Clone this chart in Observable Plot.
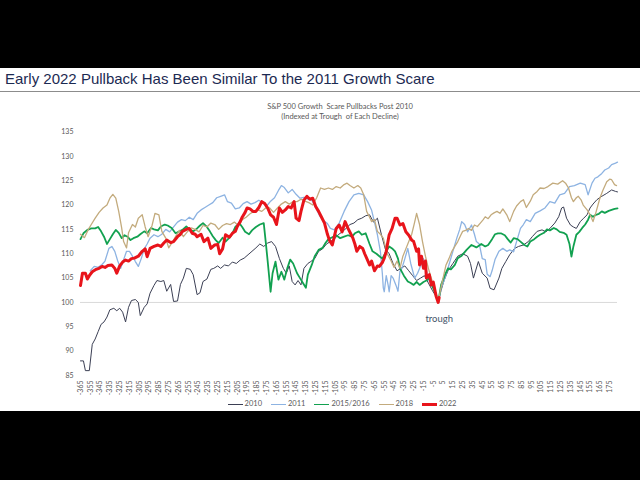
<!DOCTYPE html>
<html><head><meta charset="utf-8">
<script src="https://cdn.jsdelivr.net/npm/d3@7"></script>
<script src="https://cdn.jsdelivr.net/npm/@observablehq/plot@0.6"></script>
<style>
html,body{margin:0;padding:0;background:#000;width:640px;height:480px;overflow:hidden;position:relative;}
#panel{position:absolute;left:0;top:68px;width:640px;height:343px;background:#fff;}
#title{position:absolute;z-index:2;left:5px;top:70px;font:15px "Liberation Sans",Arial,sans-serif;color:#1c2a52;white-space:nowrap;}
#rule{position:absolute;z-index:2;left:0;top:91px;width:640px;height:1px;background:#8c8c8c;}
.ct{position:absolute;z-index:2;left:200px;width:280px;text-align:center;font:7.5px Lato,sans-serif;color:#595959;white-space:nowrap;}
#chart{position:absolute;z-index:1;left:0;top:68px;}
#legend{position:absolute;z-index:2;top:399px;left:0;width:684px;display:flex;justify-content:center;gap:9px;font:7.5px Lato,sans-serif;color:#595959;}
#legend span.sw{display:inline-block;width:15px;vertical-align:middle;margin-right:2px;}
</style></head>
<body>
<div id="panel"></div>
<div id="chart"></div>
<div id="title">Early 2022 Pullback Has Been Similar To the 2011 Growth Scare</div>
<div id="rule"></div>
<div class="ct" style="top:102px">S&amp;P 500 Growth&nbsp; Scare Pullbacks Post 2010</div>
<div class="ct" style="top:112px">(Indexed at Trough&nbsp; of Each Decline)</div>
<div id="legend"></div>
<script>
const seriesNames = ["2010", "2011", "2015/2016", "2018", "2022"];
const seriesColors = ["#3b3f54", "#8db3e2", "#12a150", "#c3ab7d", "#e8141b"];
const seriesWidths = [1, 1.3, 1.8, 1.3, 3];
const xTicks = d3.range(-365, 176, 10);
const yTicks = [85, 90, 95, 100, 105, 110, 115, 120, 125, 130, 135];
const annotations = [{label: "trough", day: 0, value: 96.6}];

const s2010 = [[-365,88],[-362,88],[-360,86],[-356,86],[-353,91.4],[-350,92.5],[-347,94],[-344,95.5],[-341,96],[-338,97],[-335,98.5],[-331,98.8],[-328,98.3],[-325,98.8],[-322,98],[-319,96],[-316,99],[-313,100.4],[-309,100.6],[-306,100],[-304,97.3],[-300,99],[-297,99.7],[-294,101.9],[-290,103.5],[-287,104.5],[-283,104.3],[-280,104.5],[-277,102.3],[-273,103.7],[-270,100.2],[-266,100.3],[-263,103.7],[-260,105],[-257,107],[-253,106.8],[-250,105.7],[-246,101.6],[-243,102],[-240,104.3],[-236,104.8],[-232,106.8],[-229,107],[-225,107.5],[-222,107],[-218,107.7],[-214,107.5],[-210,108.3],[-206,108],[-202,108.7],[-198,109.1],[-194,109.8],[-190,110.5],[-186,111.2],[-182,112],[-178,111.5],[-174,112.2],[-170,112.5],[-166,111.5],[-162,109],[-158,107],[-155,106],[-152,107.5],[-149,104.3],[-146,103.6],[-143,104.5],[-140,103.6],[-137,107],[-133,108],[-130,108.4],[-126,109],[-122,110.5],[-118,111],[-114,112],[-110,112.5],[-106,113],[-102,113.9],[-98,114.5],[-94,115.2],[-90,116],[-86,116.3],[-82,117],[-78,117.3],[-74,117.8],[-70,118],[-66,116.5],[-62,117.3],[-58,114],[-54,111],[-50,110],[-46,108],[-42,106.5],[-38,107],[-34,107.5],[-30,106.5],[-26,105.5],[-22,104.5],[-18,105],[-14,105.5],[-10,104],[-6,102.5],[-3,101.5],[0,100],[3,102.5],[6,104.5],[10,106.5],[15,108],[20,109.5],[25,110],[30,109.5],[33,108],[36,105],[41,108.4],[45,106],[50,105],[53,102.9],[57,102.6],[62,105],[65,107],[69,108.4],[73,109.8],[78,111.1],[82,111.5],[87,111.8],[92,112.5],[96,113.5],[101,114.6],[106,114.9],[110,114.5],[114,115.2],[119,116.3],[123,117.6],[126,119.4],[128,119.6],[131,117.3],[135,115.9],[138,115.5],[141,115.2],[145,116.6],[148,117.2],[152,118],[155,119.4],[158,120.2],[162,121.1],[167,121.8],[172,122.4],[177,123.1],[181,122.8],[183,122.7]];

const s2011 = [[-355,106.5],[-351,107.4],[-347,107.2],[-343,107.8],[-340,108.5],[-336,111.1],[-333,111.5],[-330,110.5],[-327,108.5],[-324,107],[-321,108.8],[-318,110.5],[-315,110.5],[-312,109.5],[-309,108.4],[-306,107.4],[-303,109],[-300,111],[-297,112],[-294,113.2],[-290,113.9],[-286,113.5],[-282,114],[-278,115],[-274,114.5],[-270,115.5],[-266,116.5],[-262,117],[-258,116.8],[-254,117.5],[-250,117],[-246,118.3],[-242,119],[-238,119.5],[-234,120],[-230,120.5],[-226,121.5],[-222,121.8],[-218,122.1],[-215,120.7],[-211,120.4],[-207,119.2],[-203,119.4],[-199,120.3],[-195,120.7],[-191,120.2],[-187,120.5],[-183,121],[-179,120.4],[-175,119.8],[-171,120.8],[-167,121.5],[-163,123],[-160,124],[-157,123.6],[-153,122.5],[-149,123.2],[-145,122.2],[-141,121.4],[-137,121.6],[-133,121.2],[-129,121],[-125,119.5],[-121,117.8],[-117,116.8],[-113,116.2],[-110,115.2],[-106,114.9],[-101,116.3],[-96,118.7],[-91,120.7],[-86,122.1],[-81,122.4],[-76,122.1],[-72,120.7],[-68,119],[-65,116.5],[-62,113.9],[-59,110.5],[-57,106],[-56,103],[-55,102.2],[-53,105.5],[-51,103.5],[-50,102.2],[-48,105.5],[-46,105],[-43,103.5],[-41,102.3],[-39,106.4],[-37,107],[-34,109],[-31,111.1],[-28,108],[-24,105],[-21,106],[-18,107.5],[-15,109],[-12,106.5],[-9,104.3],[-5,103.6],[-2,101],[0,100],[3,102.9],[6,104.5],[8,105.7],[12,108.4],[15,110.5],[19,113.2],[22,115],[24,116.6],[27,116],[30,114.5],[34,115.9],[37,114],[39,112.5],[42,112],[45,109],[48,108.8],[50,105.8],[53,105.3],[55,106.5],[58,108.8],[62,110.5],[66,111.1],[70,110.5],[73,110.8],[77,110.4],[80,112.5],[84,115.2],[87,116],[90,117],[94,116.6],[99,118.3],[104,118.8],[109,119.4],[114,120.7],[119,120.4],[124,122.1],[129,122.4],[134,123.8],[139,124],[145,124.5],[150,124.2],[153,122.1],[157,124.5],[160,125.5],[163,125.8],[167,126.5],[170,127.2],[174,127.6],[177,128.3],[181,128.6],[183,128.8]];

const s2015 = [[-365,113],[-362,114.2],[-358,114.9],[-354,115.2],[-350,115.2],[-347,115.5],[-344,114.6],[-341,113.5],[-338,112],[-335,113],[-332,114],[-329,114.9],[-326,114.3],[-323,113.2],[-320,113.8],[-317,113.5],[-314,112.8],[-311,113.2],[-307,113.5],[-304,114],[-300,114.6],[-297,114.2],[-293,115.3],[-290,115],[-286,114.8],[-283,115.6],[-279,116],[-276,115.8],[-272,115.3],[-268,114.2],[-265,114.5],[-261,114.9],[-257,115.6],[-254,115],[-250,114.6],[-246,115.2],[-243,115.8],[-240,116.3],[-236,115.5],[-233,114.6],[-230,113.6],[-227,112.8],[-224,112.2],[-220,113.3],[-217,112.5],[-213,113.3],[-210,114.2],[-207,115.5],[-203,116.3],[-200,115.5],[-197,114.5],[-193,114],[-190,114.8],[-186,115.5],[-182,116],[-178,116.3],[-176,112.5],[-174,108.5],[-171,102.2],[-169,106],[-166,108.4],[-163,104.7],[-160,106.3],[-157,104.7],[-154,107],[-151,108.8],[-148,108],[-144,106],[-141,105],[-138,104],[-135,103],[-133,105.7],[-129,107.7],[-126,109.5],[-122,110.8],[-118,111.2],[-115,112.2],[-112,113],[-108,113.4],[-104,113.8],[-100,113.2],[-96,113.5],[-92,113.8],[-88,113.5],[-85,114.2],[-81,114.6],[-78,113.9],[-74,114.2],[-70,112],[-67,110.5],[-63,110],[-60,109.5],[-57,109],[-53,110.5],[-50,111.5],[-47,111.1],[-44,110.5],[-41,109],[-39,107],[-35,105.5],[-31,104.3],[-28,104],[-25,103.6],[-22,104.2],[-19,103.6],[-15,104.2],[-12,104.5],[-9,105],[-5,102.9],[-2,101.5],[0,100],[3,103.6],[7,105.7],[10,107],[13,106.8],[17,107.7],[20,109.1],[24,109.6],[29,110.8],[34,111.8],[39,111.3],[44,112],[48,111.5],[51,111.8],[55,113],[58,114],[61,114.2],[64,114.2],[68,113.8],[71,113],[74,112.3],[77,113.2],[81,113],[84,112.5],[88,111.8],[91,111.5],[94,112.5],[98,113],[101,113.5],[104,113.9],[108,114.3],[111,115],[114,114.8],[118,115.3],[121,115],[124,114.5],[128,114.3],[131,113.9],[134,112],[136,109.4],[138,111.5],[141,113.9],[144,114.5],[147,115.3],[150,116],[153,117],[155,118],[158,117.6],[161,118],[164,118.2],[167,118.7],[170,118.4],[174,118.8],[177,119],[180,119.2],[183,119.3]];

const s2018 = [[-365,114],[-361,113.3],[-357,115],[-354,116],[-350,117.3],[-346,118.5],[-342,119.4],[-338,120],[-335,121.4],[-332,122.2],[-329,121.4],[-326,118.7],[-323,115.3],[-321,112.5],[-318,111.2],[-316,114.3],[-312,116],[-309,115.5],[-306,117.3],[-302,118],[-299,115.5],[-296,113.5],[-292,115.8],[-289,118.3],[-285,118],[-282,114.6],[-278,113.2],[-275,111.2],[-271,112.5],[-268,113.5],[-264,114.8],[-260,113.5],[-256,114.5],[-252,115.3],[-248,115],[-244,114.5],[-240,115.8],[-236,115.5],[-232,116.3],[-228,116],[-224,115],[-220,115.8],[-216,116.2],[-212,116],[-208,116.5],[-204,115.8],[-200,117],[-196,117.5],[-192,118.2],[-188,118.7],[-184,119],[-180,118.7],[-176,119.4],[-172,119.4],[-168,118.5],[-164,119.4],[-160,120.2],[-156,120.7],[-152,120.2],[-148,120.7],[-144,120.7],[-140,121.2],[-136,120.8],[-132,120.5],[-128,120],[-124,121.5],[-120,123.5],[-116,123.2],[-112,123.5],[-108,123.2],[-104,123.8],[-100,123.5],[-96,124.2],[-93,124.5],[-90,124],[-86,123.5],[-82,124],[-79,123.5],[-76,122.1],[-73,118.7],[-70,117.5],[-68,116.6],[-65,117],[-62,114.6],[-59,114],[-56,113.2],[-52,110],[-48,108.5],[-45,107.2],[-42,108.5],[-39,107],[-36,109.5],[-33,111],[-30,112.5],[-27,114],[-24,116.5],[-22,118.3],[-19,116],[-16,112.5],[-13,109.5],[-10,107],[-7,105],[-4,103],[-2,101.5],[0,100],[2,102.2],[5,105],[8,107.7],[11,109],[14,110.5],[17,111.5],[20,112.5],[23,113.8],[25,114.6],[28,114.8],[31,115.2],[34,114.8],[37,115.9],[40,115.6],[43,116.3],[46,117],[48,117.6],[51,117.2],[54,118],[57,118.4],[60,118.7],[63,118.3],[66,119.2],[70,118],[73,116.6],[77,118.7],[80,119.8],[84,120.7],[87,121.1],[90,119.5],[94,120.8],[97,122.1],[101,122.8],[104,123.5],[108,123.4],[112,123.8],[117,124.5],[122,124.3],[127,125],[130,124.5],[133,123.5],[136,121.5],[138,120.7],[141,121.5],[143,121.8],[146,121],[148,120],[152,119],[155,118],[158,116.6],[161,118.5],[165,121.4],[168,123],[172,124.8],[175,125.3],[177,125.2],[180,124.2],[182,124]];

const s2022 = [[-365,103.5],[-363,106],[-360,106],[-358,104.8],[-356,105.5],[-353,106.3],[-349,106.8],[-346,107],[-343,107.4],[-340,107.2],[-337,107.6],[-333,107.7],[-330,107],[-328,106],[-325,107.5],[-322,108.3],[-319,108.7],[-316,108.5],[-313,109],[-310,109.1],[-306,109.5],[-302,110.5],[-299,111],[-297,109.4],[-294,111.1],[-290,111.5],[-286,111.8],[-283,111.5],[-280,112.2],[-277,112.8],[-273,112.3],[-270,112.5],[-266,113.5],[-263,114],[-261,114.6],[-257,115],[-254,115.2],[-251,114.2],[-248,114],[-246,113.5],[-242,114],[-239,112.5],[-235,113.2],[-232,111.1],[-228,111.8],[-225,111.9],[-223,110],[-220,111],[-217,113.9],[-213,113.4],[-210,114.2],[-207,114.6],[-205,115.6],[-202,116.6],[-200,117.5],[-197,118.5],[-195,119.4],[-192,119.2],[-189,118.7],[-186,118.7],[-183,119.5],[-180,120.7],[-177,120.3],[-174,119.4],[-171,118],[-168,117.5],[-165,116],[-162,119.4],[-159,118.5],[-156,119],[-153,119.7],[-150,119.4],[-147,120.7],[-145,117.3],[-142,116.8],[-140,118.7],[-137,121],[-134,121.8],[-131,121.2],[-128,121.4],[-125,119.7],[-122,118.7],[-119,117.5],[-116,116.3],[-113,114],[-111,112.8],[-108,111.8],[-106,113.5],[-104,115.2],[-101,115.9],[-98,114.5],[-95,116.6],[-92,115.2],[-89,114],[-87,113.2],[-85,112],[-83,110.5],[-80,111.5],[-77,111.1],[-75,110],[-73,109.1],[-70,107.7],[-68,108.5],[-65,106.5],[-62,107.5],[-60,107.4],[-57,108.2],[-55,109.1],[-53,110.5],[-50,113.9],[-47,115.2],[-44,117.3],[-42,117.3],[-39,115.9],[-36,116.2],[-33,114.5],[-30,113.8],[-27,112.8],[-25,112.5],[-22,110.5],[-20,111],[-19,107.7],[-17,109.5],[-15,107],[-13,108.5],[-12,105],[-9,105.7],[-7,103.6],[-5,104.2],[-3,102.2],[-2,101.2],[0,100],[1,101]];

const allSeries = [s2010, s2011, s2015, s2018, s2022];

const chart = Plot.plot({
  width: 640,
  height: 343,
  marginLeft: 80,
  marginRight: 23,
  marginTop: 63.5,
  marginBottom: 36,
  style: {background: "white", color: "#595959", fontFamily: "Lato, sans-serif", fontSize: "7px"},
  x: {domain: [-365, 183]},
  y: {domain: [85, 135]},
  marks: [
    Plot.ruleY([100], {stroke: "#d9d9d9", strokeWidth: 1}),
    ...allSeries.map((s, i) => Plot.line(s, {x: d => d[0], y: d => d[1], stroke: seriesColors[i], strokeWidth: seriesWidths[i], strokeLinejoin: "round"})),
    Plot.axisX({ticks: xTicks, tickFormat: d => String(d), tickRotate: -90, tickSize: 0, tickPadding: 5, fontSize: 7, label: null}),
    Plot.axisY({ticks: yTicks, tickFormat: d => String(d), tickSize: 0, tickPadding: 7, fontSize: 7, label: null}),
    Plot.text(annotations, {x: "day", y: "value", text: "label", fill: "#44546a", fontSize: 9.5, dx: 1})
  ]
});
document.getElementById("chart").appendChild(chart);

const legend = document.getElementById("legend");
seriesNames.forEach((n, i) => {
  const item = document.createElement("div");
  const sw = document.createElement("span");
  sw.className = "sw";
  sw.style.borderTop = `${Math.max(1.5, seriesWidths[i])}px solid ${seriesColors[i]}`;
  item.appendChild(sw);
  item.appendChild(document.createTextNode(n));
  legend.appendChild(item);
});
</script>
</body></html>
